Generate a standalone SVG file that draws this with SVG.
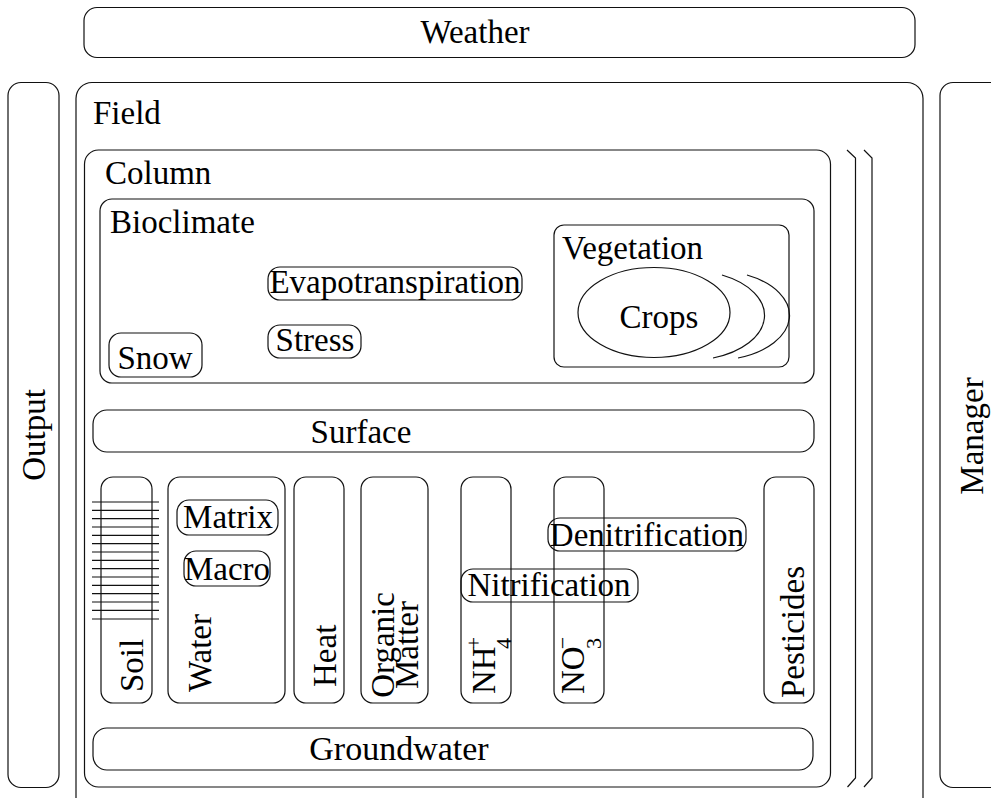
<svg xmlns="http://www.w3.org/2000/svg" width="991" height="798" viewBox="0 0 991 798">
<style>
.box{fill:none;stroke:#111;stroke-width:1.2}
.ln{stroke:#111;stroke-width:1.2;fill:none}
</style>
<rect width="991" height="798" fill="#fff"/>
<g id="weather"><rect class="box" x="84" y="7.5" width="831" height="50" rx="13"/><text style="font-family:'Liberation Serif',serif;font-size:33px" text-anchor="middle" x="475" y="43">Weather</text></g>
<g id="output"><rect class="box" x="8" y="82.5" width="51" height="705" rx="13"/><text style="font-family:'Liberation Serif',serif;font-size:33px" text-anchor="middle" transform="translate(45,435) rotate(-90)">Output</text></g>
<g id="manager"><rect class="box" x="940" y="82.5" width="70" height="705" rx="13"/><text style="font-family:'Liberation Serif',serif;font-size:33px" text-anchor="middle" transform="translate(983,436) rotate(-90)">Manager</text></g>
<g id="field"><rect class="box" x="76" y="82.5" width="847" height="740" rx="16"/><text style="font-family:'Liberation Serif',serif;font-size:33px" x="93" y="124">Field</text></g>
<g id="column-stack"><path class="ln" d="M847,150 L855.5,158 L855.5,778 L847.5,787 M864,150 L872,158 L872,778 L864,787"/></g>
<g id="column"><rect class="box" x="84.5" y="150" width="746" height="637" rx="14"/><text style="font-family:'Liberation Serif',serif;font-size:33px" x="105" y="184">Column</text></g>
<g id="bioclimate"><rect class="box" x="100" y="199" width="714" height="184" rx="12"/><text style="font-family:'Liberation Serif',serif;font-size:33px" x="110" y="233">Bioclimate</text></g>
<g id="vegetation"><rect class="box" x="554" y="225" width="235" height="142" rx="10"/><text style="font-family:'Liberation Serif',serif;font-size:33px" x="562" y="259">Vegetation</text></g>
<g id="crops"><ellipse class="box" cx="654" cy="312.5" rx="76" ry="45"/><path class="ln" d="M722,275 A76,45 0 0,1 713,358 M747,275 A76,45 0 0,1 738,358"/><text style="font-family:'Liberation Serif',serif;font-size:33px" text-anchor="middle" x="659" y="328">Crops</text></g>
<g id="evapotranspiration"><rect class="box" x="268" y="267" width="254" height="33" rx="12"/><text style="font-family:'Liberation Serif',serif;font-size:33px" text-anchor="middle" x="395" y="293">Evapotranspiration</text></g>
<g id="stress"><rect class="box" x="268" y="325" width="93" height="33" rx="12"/><text style="font-family:'Liberation Serif',serif;font-size:33px" text-anchor="middle" x="315" y="351">Stress</text></g>
<g id="snow"><rect class="box" x="109" y="333" width="93" height="44" rx="12"/><text style="font-family:'Liberation Serif',serif;font-size:33px" text-anchor="middle" x="155" y="369">Snow</text></g>
<g id="surface"><rect class="box" x="93" y="410" width="721" height="42" rx="14"/><text style="font-family:'Liberation Serif',serif;font-size:33px" text-anchor="middle" x="361" y="443">Surface</text></g>
<g id="soil"><rect class="box" x="101" y="477" width="51" height="226" rx="12"/>
<path class="ln" d="M92,502H159M92,510.3H159M92,518.6H159M92,527H159M92,535.3H159M92,543.6H159M92,552H159M92,560.3H159M92,568.6H159M92,577H159M92,585.3H159M92,593.6H159M92,602H159M92,610.3H159M92,619H159"/>
<text style="font-family:'Liberation Serif',serif;font-size:33px" transform="translate(143,692) rotate(-90)">Soil</text></g>
<g id="water"><rect class="box" x="168" y="477" width="117" height="226" rx="12"/><text style="font-family:'Liberation Serif',serif;font-size:33px" transform="translate(211,692) rotate(-90)">Water</text></g>
<g id="matrix"><rect class="box" x="177" y="500" width="101" height="35" rx="12"/><text style="font-family:'Liberation Serif',serif;font-size:33px" text-anchor="middle" x="228" y="528">Matrix</text></g>
<g id="macro"><rect class="box" x="184" y="551" width="86" height="35" rx="12"/><text style="font-family:'Liberation Serif',serif;font-size:33px" text-anchor="middle" x="227" y="580">Macro</text></g>
<g id="heat"><rect class="box" x="294" y="477" width="50" height="226" rx="12"/><text style="font-family:'Liberation Serif',serif;font-size:33px" transform="translate(336,687) rotate(-90)">Heat</text></g>
<g id="organic-matter"><rect class="box" x="361" y="477" width="67" height="226" rx="12"/><text style="font-family:'Liberation Serif',serif;font-size:33px" text-anchor="middle" transform="translate(394,645) rotate(-90)">Organic</text><text style="font-family:'Liberation Serif',serif;font-size:33px" text-anchor="middle" transform="translate(418,645) rotate(-90)">Matter</text></g>
<g id="nh4"><rect class="box" x="461" y="477" width="50" height="226" rx="12"/><text style="font-family:'Liberation Serif',serif;font-size:33px" transform="translate(495,694) rotate(-90)">NH<tspan font-size="22" dx="-3" dy="-14">+</tspan><tspan font-size="22" dx="-12" dy="30">4</tspan></text></g>
<g id="no3"><rect class="box" x="554" y="477" width="50" height="226" rx="12"/><text style="font-family:'Liberation Serif',serif;font-size:33px" transform="translate(584,694) rotate(-90)">NO<tspan font-size="22" dx="-3" dy="-14">−</tspan><tspan font-size="22" dx="-12" dy="31">3</tspan></text></g>
<g id="pesticides"><rect class="box" x="764" y="477" width="50" height="226" rx="12"/><text style="font-family:'Liberation Serif',serif;font-size:33px" transform="translate(804,698) rotate(-90)">Pesticides</text></g>
<g id="denitrification"><rect class="box" x="548" y="518" width="198" height="33" rx="12"/><text style="font-family:'Liberation Serif',serif;font-size:33px" text-anchor="middle" x="647" y="546">Denitrification</text></g>
<g id="nitrification"><rect class="box" x="461" y="569" width="177" height="33" rx="12"/><text style="font-family:'Liberation Serif',serif;font-size:33px" text-anchor="middle" x="549" y="596">Nitrification</text></g>
<g id="groundwater"><rect class="box" x="93" y="728" width="720" height="42" rx="14"/><text style="font-family:'Liberation Serif',serif;font-size:34px" text-anchor="middle" x="399" y="760">Groundwater</text></g>
</svg>
